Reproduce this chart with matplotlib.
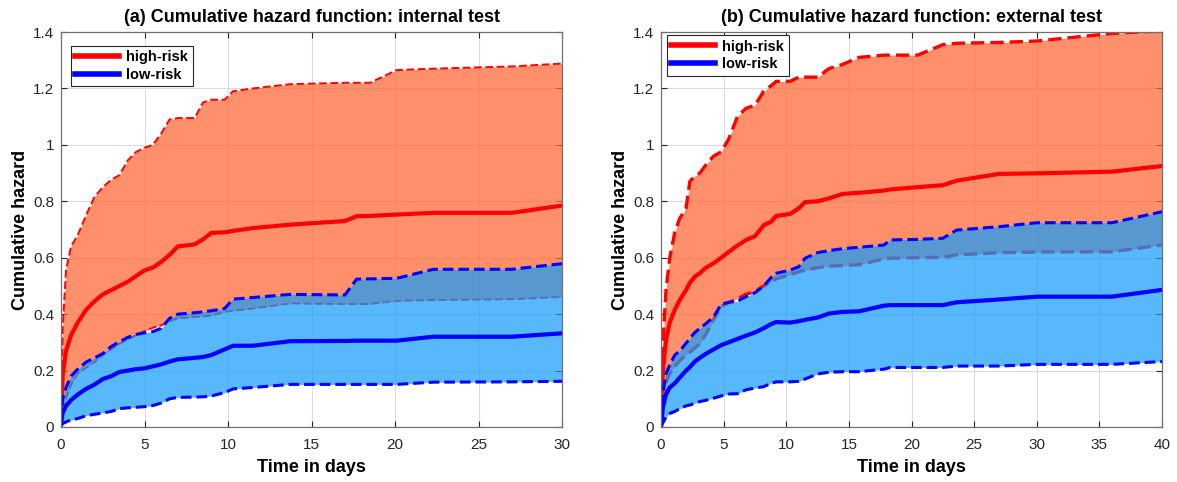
import matplotlib.pyplot as plt

plt.rcParams['font.family'] = ['Liberation Sans', 'DejaVu Sans']

# ---- panel (a): internal test ----
t_a = [0, 0.1, 0.3, 0.6, 1.0, 1.5, 2.0, 2.5, 3.0, 3.5, 4.0, 4.5, 5.0, 5.5, 6.0, 6.5,
       7.0, 8.0, 8.5, 9.0, 9.8, 10.3, 11.5, 13.7, 17.0, 17.7, 18.5, 20.1, 22.3, 27.0, 30.0]
hi_up_a = [0.05, 0.35, 0.556, 0.64, 0.68, 0.75, 0.815, 0.85, 0.876, 0.893, 0.945, 0.975,
           0.99, 1.0, 1.04, 1.09, 1.095, 1.095, 1.15, 1.16, 1.16, 1.19, 1.2, 1.215, 1.22,
           1.22, 1.22, 1.265, 1.27, 1.278, 1.288]
hi_a = [0.03, 0.18, 0.27, 0.325, 0.37, 0.415, 0.445, 0.47, 0.485, 0.5, 0.515, 0.535,
        0.555, 0.565, 0.585, 0.61, 0.64, 0.647, 0.665, 0.688, 0.69, 0.695, 0.705, 0.717,
        0.73, 0.747, 0.748, 0.753, 0.759, 0.759, 0.785]
hi_lo_a = [0.02, 0.06, 0.1, 0.15, 0.19, 0.21, 0.23, 0.255, 0.275, 0.295, 0.31, 0.325,
           0.34, 0.352, 0.36, 0.375, 0.385, 0.39, 0.392, 0.395, 0.408, 0.412, 0.42, 0.438,
           0.436, 0.436, 0.436, 0.447, 0.45, 0.453, 0.461]
lo_up_a = [0.02, 0.1, 0.14, 0.18, 0.205, 0.23, 0.245, 0.26, 0.285, 0.302, 0.318, 0.328,
           0.334, 0.338, 0.35, 0.385, 0.4, 0.405, 0.408, 0.412, 0.42, 0.453, 0.459, 0.47,
           0.468, 0.524, 0.525, 0.527, 0.559, 0.559, 0.579]
lo_a = [0.01, 0.05, 0.075, 0.095, 0.115, 0.135, 0.15, 0.17, 0.18, 0.195, 0.2, 0.205,
        0.208, 0.215, 0.222, 0.232, 0.24, 0.245, 0.248, 0.255, 0.275, 0.288, 0.288, 0.304,
        0.305, 0.306, 0.306, 0.306, 0.32, 0.32, 0.332]
lo_lo_a = [0.005, 0.012, 0.018, 0.025, 0.03, 0.04, 0.045, 0.05, 0.055, 0.065, 0.068, 0.07,
           0.072, 0.076, 0.085, 0.1, 0.105, 0.106, 0.107, 0.11, 0.122, 0.135, 0.14, 0.151,
           0.151, 0.151, 0.151, 0.151, 0.159, 0.16, 0.162]

# ---- panel (b): external test ----
t_b = [0, 0.15, 0.4, 0.7, 1.1, 1.5, 2.0, 2.3, 2.7, 3.1, 3.6, 4.2, 4.8, 5.4, 6.1, 6.8,
       7.5, 8.2, 8.8, 9.2, 10.3, 11.0, 11.5, 12.5, 13.4, 14.5, 15.8, 17.8, 18.3, 20.5,
       22.5, 23.6, 27.0, 30.0, 36.0, 40.0]
hi_up_b = [0.1, 0.3, 0.486, 0.6, 0.69, 0.74, 0.775, 0.87, 0.89, 0.9, 0.93, 0.96, 0.975,
           1.02, 1.1, 1.13, 1.14, 1.19, 1.21, 1.225, 1.225, 1.24, 1.24, 1.24, 1.27, 1.285,
           1.31, 1.318, 1.318, 1.318, 1.355, 1.36, 1.363, 1.368, 1.395, 1.404]
hi_b = [0.05, 0.2, 0.308, 0.37, 0.415, 0.45, 0.485, 0.51, 0.533, 0.545, 0.565, 0.58, 0.6,
        0.62, 0.643, 0.663, 0.676, 0.715, 0.728, 0.748, 0.755, 0.775, 0.797, 0.8, 0.81,
        0.826, 0.83, 0.838, 0.842, 0.85, 0.857, 0.873, 0.897, 0.899, 0.905, 0.925]
hi_lo_b = [0.02, 0.1, 0.16, 0.19, 0.215, 0.235, 0.255, 0.265, 0.28, 0.295, 0.33, 0.38,
           0.427, 0.44, 0.455, 0.47, 0.48, 0.5, 0.515, 0.525, 0.54, 0.55, 0.556, 0.565,
           0.57, 0.572, 0.575, 0.596, 0.598, 0.6, 0.601, 0.61, 0.618, 0.62, 0.621, 0.645]
lo_up_b = [0.02, 0.12, 0.19, 0.22, 0.255, 0.27, 0.297, 0.314, 0.335, 0.35, 0.367, 0.39,
           0.435, 0.442, 0.446, 0.462, 0.476, 0.5, 0.53, 0.545, 0.556, 0.568, 0.598, 0.618,
           0.625, 0.632, 0.637, 0.645, 0.663, 0.665, 0.669, 0.698, 0.71, 0.724, 0.724, 0.763]
lo_b = [0.0, 0.07, 0.115, 0.14, 0.155, 0.175, 0.2, 0.212, 0.232, 0.245, 0.26, 0.275, 0.29,
        0.3, 0.312, 0.324, 0.335, 0.35, 0.365, 0.372, 0.37, 0.375, 0.38, 0.388, 0.402,
        0.408, 0.41, 0.43, 0.432, 0.432, 0.432, 0.442, 0.452, 0.462, 0.462, 0.486]
lo_lo_b = [0.0, 0.015, 0.035, 0.048, 0.055, 0.065, 0.075, 0.078, 0.084, 0.09, 0.095, 0.102,
           0.11, 0.117, 0.118, 0.132, 0.138, 0.143, 0.155, 0.16, 0.16, 0.162, 0.17, 0.188,
           0.194, 0.196, 0.196, 0.205, 0.211, 0.211, 0.211, 0.216, 0.216, 0.222, 0.222, 0.232]

ORANGE = (1.0, 0.39, 0.18)
BLUE = (0.07, 0.61, 0.99)


def panel(ax, t, hi_up, hi, hi_lo, lo_up, lo, lo_lo, xmax, title, red_dash_lw, leg_anchor):
    ax.set_axisbelow(True)
    ax.grid(True, color='#dcdcdc', lw=0.8)
    # draw in MATLAB order: orange band + red lines, then blue band on top
    ax.fill_between(t, hi_lo, hi_up, color=ORANGE, alpha=0.71, lw=0, zorder=2)
    ax.plot(t, hi_up, color='red', ls=(0, (4, 1.8)), lw=red_dash_lw, zorder=3)
    ax.plot(t, hi_lo, color='red', ls=(0, (4, 1.8)), lw=red_dash_lw, zorder=3)
    ax.plot(t, hi, color='red', lw=3, label='high-risk', zorder=3)
    ax.fill_between(t, lo_lo, lo_up, color=BLUE, alpha=0.71, lw=0, zorder=4)
    ax.plot(t, lo_up, color='blue', ls=(0, (3.5, 1.6)), lw=2.2, zorder=5)
    ax.plot(t, lo_lo, color='blue', ls=(0, (3.5, 1.6)), lw=2.2, zorder=5)
    ax.plot(t, lo, color='blue', lw=3, label='low-risk', zorder=5)

    ax.set_xlim(0, xmax)
    ax.set_ylim(0, 1.4)
    ax.set_xticks(range(0, xmax + 1, 5))
    ax.set_yticks([0, 0.2, 0.4, 0.6, 0.8, 1.0, 1.2, 1.4])
    ax.set_yticklabels(['0', '0.2', '0.4', '0.6', '0.8', '1', '1.2', '1.4'])
    ax.tick_params(direction='in', top=True, right=True, length=4, width=0.8,
                   colors='#262626', labelsize=11)
    ax.tick_params(axis='x', pad=8)
    ax.tick_params(axis='y', pad=5)
    for s in ax.spines.values():
        s.set_color('#707070')
        s.set_linewidth(0.9)
        s.set_zorder(6)
    ax.set_title(title, fontsize=13, fontweight='bold', pad=7)
    ax.set_xlabel('Time in days', fontsize=13, fontweight='bold', labelpad=5)
    ax.set_ylabel('Cumulative hazard', fontsize=13, fontweight='bold', labelpad=3)
    leg = ax.legend(loc='upper left', bbox_to_anchor=leg_anchor,
                    prop={'weight': 'bold', 'size': 10.5}, fancybox=False, framealpha=1,
                    edgecolor='#262626', handlelength=3.0, handletextpad=0.5,
                    borderpad=0.3, labelspacing=0.25, borderaxespad=0)
    leg.get_frame().set_linewidth(0.8)
    leg.set_zorder(10)
    for h in leg.get_lines():
        h.set_linewidth(4)


fig = plt.figure(figsize=(11.77, 4.82), dpi=100)
ax1 = fig.add_axes([61 / 1177, 55 / 482, 501 / 1177, 395 / 482])
ax2 = fig.add_axes([661 / 1177, 55 / 482, 501 / 1177, 395 / 482])

panel(ax1, t_a, hi_up_a, hi_a, hi_lo_a, lo_up_a, lo_a, lo_lo_a, 30,
      '(a) Cumulative hazard function: internal test', 1.4, (0.02, 0.965))
panel(ax2, t_b, hi_up_b, hi_b, hi_lo_b, lo_up_b, lo_b, lo_lo_b, 40,
      '(b) Cumulative hazard function: external test', 2.4, (0.012, 0.992))

fig.savefig('out.png', dpi=100)
